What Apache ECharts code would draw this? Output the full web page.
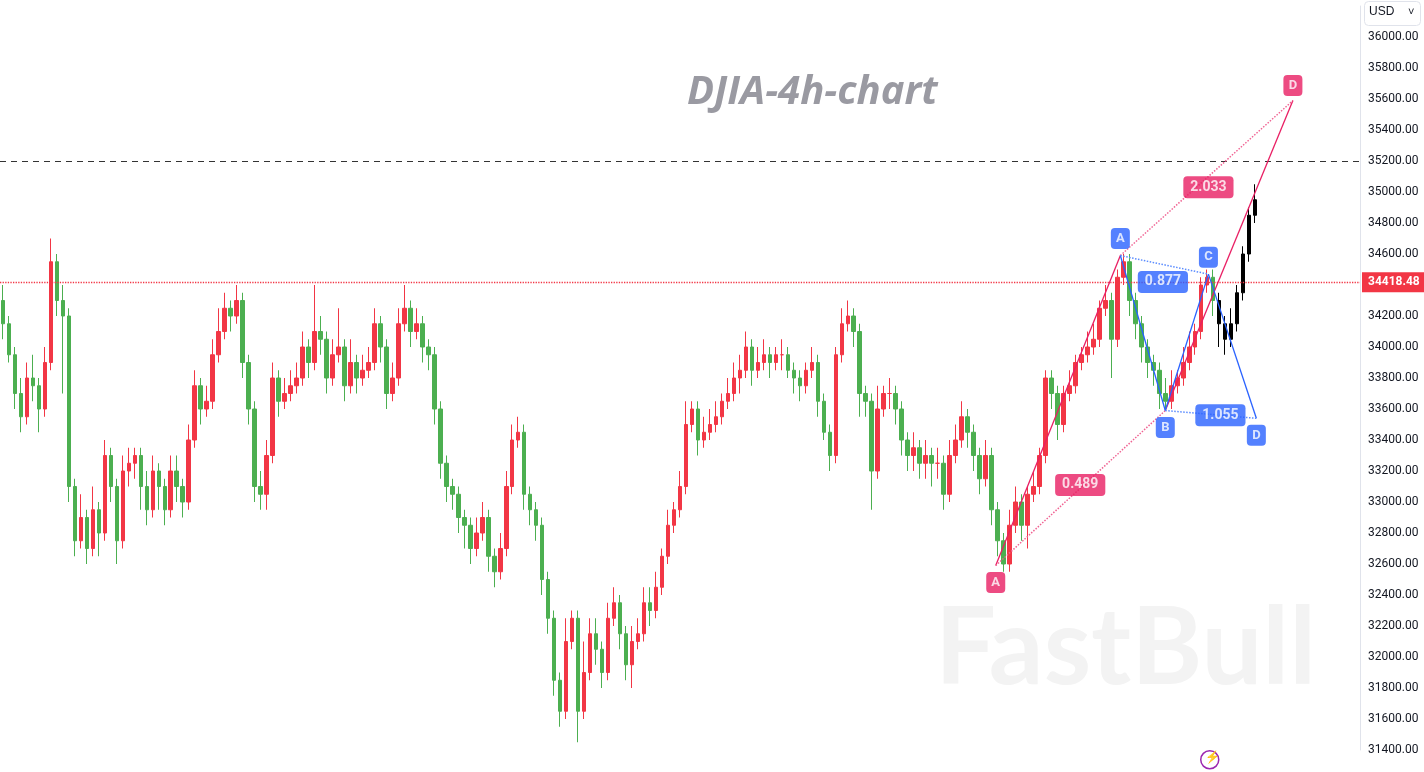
<!DOCTYPE html>
<html>
<head>
<meta charset="utf-8">
<script src="https://cdn.jsdelivr.net/npm/echarts@6/dist/echarts.min.js"></script>
<style>
html,body{margin:0;padding:0;background:#fff;overflow:hidden;}
#main{width:1424px;height:772px;}
</style>
</head>
<body>
<div id="main"></div>
<script>
// [open, close, low, high]
var candles = [
[34300,34150,34050,34400],[34150,33950,33900,34200],[33950,33700,33600,34000],[33700,33550,33450,33800],
[33550,33800,33500,33900],[33800,33750,33650,33950],[33750,33600,33450,33800],[33600,33900,33550,34000],
[33900,34550,33850,34700],[34550,34300,34200,34600],[34300,34200,33700,34400],[34200,33100,33000,34250],
[33100,32750,32650,33150],[32750,32900,32700,33050],[32900,32700,32600,32950],[32700,32950,32650,33100],
[32950,32800,32650,33000],[32800,33300,32750,33400],[33300,33100,33000,33350],[33100,32750,32600,33150],
[32750,33200,32700,33300],[33200,33250,33100,33350],[33250,33300,33150,33350],[33300,33100,32950,33350],
[33100,32950,32850,33200],[32950,33200,32900,33300],[33200,33100,32950,33250],[33100,32950,32850,33150],
[32950,33200,32900,33300],[33200,33100,33000,33300],[33100,33000,32900,33150],[33000,33400,32950,33500],
[33400,33750,33350,33850],[33750,33600,33500,33800],[33600,33650,33550,33750],[33650,33950,33600,34050],
[33950,34100,33900,34250],[34100,34250,34050,34350],[34250,34200,34100,34300],[34200,34300,34150,34400],
[34300,33900,33800,34350],[33900,33600,33500,33950],[33600,33100,33000,33650],[33100,33050,32950,33200],
[33050,33300,32950,33400],[33300,33800,33250,33900],[33800,33650,33550,33850],[33650,33700,33600,33800],
[33700,33750,33650,33850],[33750,33800,33700,33900],[33800,34000,33750,34100],[34000,33900,33800,34050],
[33900,34100,33850,34400],[34100,34050,33950,34200],[34050,33800,33700,34100],[33800,33950,33750,34050],
[33950,34000,33900,34250],[34000,33750,33650,34050],[33750,33900,33700,34050],[33900,33800,33700,33950],
[33800,33850,33750,33950],[33850,33900,33800,34000],[33900,34150,33850,34250],[34150,34000,33900,34200],
[34000,33700,33600,34050],[33700,33800,33650,33900],[33800,34150,33750,34250],[34150,34250,34100,34400],
[34250,34100,34000,34300],[34100,34150,34050,34250],[34150,34000,33900,34200],[34000,33950,33850,34050],
[33950,33600,33500,34000],[33600,33250,33150,33650],[33250,33100,33000,33300],[33100,33050,32950,33150],
[33050,32900,32800,33100],[32900,32850,32700,32950],[32850,32700,32600,32900],[32700,32800,32650,32900],
[32800,32900,32750,33000],[32900,32650,32550,32950],[32650,32550,32450,32700],[32550,32700,32500,32800],
[32700,33100,32650,33200],[33100,33400,33050,33500],[33400,33450,33350,33550],[33450,33050,32950,33500],
[33050,32950,32850,33100],[32950,32850,32750,33000],[32850,32500,32400,32900],[32500,32250,32150,32550],
[32250,31850,31750,32300],[31850,31650,31550,31900],[31650,32100,31600,32250],[32100,32250,32050,32300],
[32250,31650,31450,32300],[31650,31900,31600,32100],[31900,32150,31850,32250],[32150,32050,31950,32250],
[32050,31900,31800,32100],[31900,32250,31850,32350],[32250,32350,32200,32450],[32350,32150,32050,32400],
[32150,31950,31850,32200],[31950,32100,31800,32200],[32100,32150,32050,32250],[32150,32350,32100,32450],
[32350,32300,32200,32450],[32300,32450,32250,32550],[32450,32650,32400,32700],[32650,32850,32600,32950],
[32850,32950,32800,33000],[32950,33100,32900,33200],[33100,33500,33050,33650],[33500,33600,33450,33650],
[33600,33400,33300,33650],[33400,33450,33350,33550],[33450,33500,33400,33600],[33500,33550,33450,33650],
[33550,33650,33500,33700],[33650,33700,33600,33800],[33700,33800,33650,33900],[33800,33850,33700,33950],
[33850,34000,33800,34100],[34000,33850,33750,34050],[33850,33900,33800,34000],[33900,33950,33850,34050],
[33950,33900,33800,34000],[33900,33950,33850,34000],[33950,33950,33850,34050],[33950,33850,33800,34000],
[33850,33800,33700,33900],[33800,33750,33650,33850],[33750,33850,33700,33900],[33850,33900,33800,34000],
[33900,33650,33550,33950],[33650,33450,33400,33700],[33450,33300,33200,33500],[33300,33950,33250,34000],
[33950,34150,33900,34250],[34150,34200,34100,34300],[34200,34100,34000,34250],[34100,33700,33550,34150],
[33700,33650,33550,33750],[33650,33200,32950,33700],[33200,33600,33150,33750],[33600,33700,33550,33750],
[33700,33700,33600,33800],[33700,33600,33500,33750],[33600,33400,33300,33650],[33400,33300,33200,33450],
[33300,33350,33200,33450],[33350,33250,33150,33400],[33250,33300,33150,33400],[33300,33250,33100,33350],
[33250,33250,33150,33350],[33250,33050,32950,33300],[33050,33300,33000,33400],[33300,33400,33250,33500],
[33400,33550,33350,33650],[33550,33450,33350,33600],[33450,33300,33200,33500],[33300,33150,33050,33350],
[33150,33300,33100,33400],[33300,32950,32850,33350],[32950,32750,32650,33000],[32750,32600,32550,32800],
[32600,32850,32550,32950],[32850,33000,32800,33100],[33000,32850,32750,33050],[32850,33050,32700,33100],
[33050,33100,33000,33200],[33100,33300,33050,33350],[33300,33800,33250,33850],[33800,33700,33600,33850],
[33700,33500,33400,33750],[33500,33700,33450,33750],[33700,33750,33650,33850],[33750,33900,33700,33950],
[33900,33950,33850,34000],[33950,34000,33900,34100],[34000,34050,33950,34150],[34050,34250,34000,34300],
[34250,34300,34200,34400],[34300,34050,33800,34350],[34050,34450,34000,34500],[34450,34550,34400,34600],
[34550,34300,34200,34600],[34300,34150,34050,34350],[34150,34000,33900,34200],[34000,33900,33800,34050],
[33900,33850,33750,33950],[33850,33700,33600,33900],[33700,33650,33600,33800],[33650,33750,33600,33850],
[33750,33800,33700,33850],[33800,33900,33750,34000],[33900,34000,33850,34100],[34000,34100,33950,34150],
[34100,34400,34050,34450],[34400,34450,34350,34500],[34450,34300,34200,34500]
];
// projected path (black)
var projection = [
[34300,34150,34000,34350],[34150,34050,33950,34200],[34050,34150,34000,34250],[34150,34350,34100,34400],
[34350,34600,34300,34650],[34600,34850,34550,34900],[34850,34950,34800,35050]
];
var categoryCount = 227;
var yTicks = {min: 31400, max: 36200, step: 200};
var lastPrice = 34418.48;
var resistance = 35200;
// harmonic pattern points [x index, price]
var pinkA = [165.7, 32590], pinkPeak = [186.5, 34590], pinkB = [194, 33590], pinkD = [215.3, 35590];
var blueA = [186.5, 34590], blueB = [194, 33590], blueC = [201.2, 34470], blueD = [209.2, 33540];
var ratioLabels = [
  {name: '0.489', pos: [179.8, 33110], color: '#e91e63'},
  {name: '2.033', pos: [201.2, 35030], color: '#e91e63'},
  {name: '0.877', pos: [193.6, 34420], color: '#2962ff'},
  {name: '1.055', pos: [203.2, 33560], color: '#2962ff'}
];
var pointLabels = [
  {name: 'A', pos: pinkA, color: '#e91e63', dy: 17},
  {name: 'D', pos: pinkD, color: '#e91e63', dy: -15},
  {name: 'A', pos: blueA, color: '#2962ff', dy: -17},
  {name: 'B', pos: blueB, color: '#2962ff', dy: 17},
  {name: 'C', pos: blueC, color: '#2962ff', dy: -17},
  {name: 'D', pos: blueD, color: '#2962ff', dy: 17}
];

var cats = [];
for (var i = 0; i < categoryCount; i++) cats.push(String(i));
var projData = [];
for (var i = 0; i < candles.length; i++) projData.push('-');
projData = projData.concat(projection);

function seg(p, q, color, dotted) {
  return {
    type: 'line', xAxisIndex: 1, data: [p, q], symbol: 'none', silent: true, z: 5,
    lineStyle: {color: color, width: dotted ? 1.5 : 1.3, type: dotted ? 'dotted' : 'solid'}
  };
}

var series = [
  {
    type: 'candlestick', data: candles, barWidth: 4,
    itemStyle: {color: '#f23645', color0: '#4caf50', borderColor: '#f23645', borderColor0: '#4caf50'},
    markLine: {
      symbol: 'none', silent: true,
      data: [
        {yAxis: lastPrice, lineStyle: {color: '#f23645', type: 'dotted', width: 1.3},
         label: {show: true, position: 'end', formatter: '34418.48', backgroundColor: '#f23645', color: '#fff',
                 padding: [4, 6], fontSize: 12, fontWeight: 'bold', distance: 2}},
        {yAxis: resistance, lineStyle: {color: '#333', type: [6, 5], width: 1}, label: {show: false}}
      ]
    }
  },
  {
    type: 'candlestick', data: projData, barWidth: 3,
    itemStyle: {color: '#000', color0: '#000', borderColor: '#000', borderColor0: '#000'}
  },
  seg(pinkA, pinkPeak, '#e91e63', false),
  seg(pinkB, pinkD, '#e91e63', false),
  seg(pinkA, pinkB, '#f06292', true),
  seg(pinkPeak, pinkD, '#f06292', true),
  seg(blueA, blueB, '#2962ff', false),
  seg(blueB, blueC, '#2962ff', false),
  seg(blueC, blueD, '#2962ff', false),
  seg(blueA, blueC, '#5b8cff', true),
  seg(blueB, blueD, '#5b8cff', true),
  {
    type: 'scatter', xAxisIndex: 1, symbolSize: 0, silent: true, z: 10,
    data: ratioLabels.map(function (r) {
      return {value: r.pos, label: {show: true, formatter: r.name, backgroundColor: r.color, color: '#fff',
        borderRadius: 4, padding: [4, 7], fontSize: 14, fontWeight: 'bold', position: 'inside'}};
    })
  },
  {
    type: 'scatter', xAxisIndex: 1, symbolSize: 0, silent: true, z: 10,
    data: pointLabels.map(function (r) {
      return {value: r.pos, label: {show: true, formatter: r.name, backgroundColor: r.color, color: '#fff',
        borderRadius: 4, padding: [4, 4], width: 11, align: 'center', fontSize: 13, fontWeight: 'bold',
        position: 'inside', offset: [0, r.dy]}};
    })
  }
];

var chart = echarts.init(document.getElementById('main'));
chart.setOption({
  animation: false,
  textStyle: {fontFamily: 'Roboto, "Noto Sans", sans-serif'},
  grid: {left: 0, right: 64, top: 6, height: 744},
  xAxis: [
    {type: 'category', data: cats, show: false, boundaryGap: true},
    {type: 'value', show: false, min: -0.5, max: categoryCount - 0.5}
  ],
  yAxis: {
    type: 'value', position: 'right',
    min: yTicks.min, max: yTicks.max, interval: yTicks.step,
    splitLine: {show: false},
    axisLine: {show: true, onZero: false, lineStyle: {color: '#e0e3eb'}},
    axisTick: {show: false},
    axisLabel: {
      color: '#131722', fontSize: 12, margin: 8,
      formatter: function (v) { return v >= 36200 ? '' : v.toFixed(2); }
    }
  },
  graphic: [
    {type: 'text', left: 687, top: 73,
     style: {text: 'DJIA-4h-chart', fontSize: 40, fontWeight: 'bold', fontStyle: 'italic', fill: '#9a9aa2',
             fontFamily: '"Open Sans", sans-serif'}},
    {type: 'text', left: 935, top: 595, z: -1,
     style: {text: 'FastBull', fontSize: 108, fontWeight: 'bold', fill: '#f3f3f3',
             fontFamily: 'Lato, sans-serif'}},
    {type: 'rect', left: 1364, top: 1, shape: {width: 56, height: 24, r: 4},
     style: {fill: '#fff', stroke: '#e0e3eb'}},
    {type: 'text', left: 1369, top: 6, style: {text: 'USD', fontSize: 12, fill: '#131722'}},
    {type: 'text', left: 1408, top: 6, style: {text: '˅', fontSize: 11, fill: '#131722'}},
    {type: 'circle', left: 1200, top: 750, shape: {r: 9}, style: {fill: '#fff', stroke: '#9c27b0', lineWidth: 1.5}},
    {type: 'text', left: 1205, top: 752, style: {text: '⚡', fontSize: 12, fill: '#9c27b0'}}
  ],
  series: series
});
</script>
</body>
</html>
